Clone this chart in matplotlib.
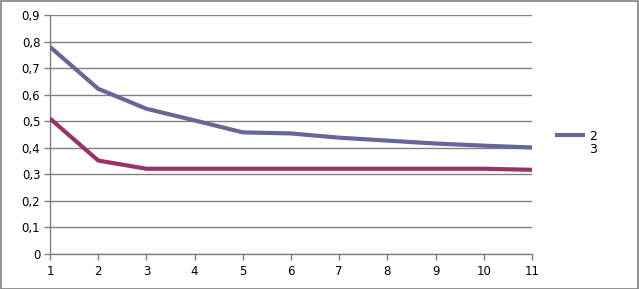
import matplotlib
matplotlib.use('Agg')
import matplotlib.pyplot as plt
from matplotlib.ticker import FuncFormatter, MultipleLocator
from matplotlib.patches import Rectangle

# values
x_vals = [1, 2, 3, 4, 5, 6, 7, 8, 9, 10, 11]
series_2 = [0.78, 0.622, 0.547, 0.503, 0.458, 0.454, 0.438, 0.427, 0.416, 0.408, 0.401]
series_3 = [0.51, 0.352, 0.321, 0.321, 0.321, 0.321, 0.321, 0.321, 0.321, 0.321, 0.317]
labels = ["2", "3"]

fig = plt.figure(figsize=(6.39, 2.89), dpi=100)
ax = fig.add_axes([50 / 639, 35 / 289, 482 / 639, 239 / 289])

ax.plot(x_vals, series_2, color="#666699", linewidth=3, label=labels[0],
        solid_capstyle="butt", zorder=3)
ax.plot(x_vals, series_3, color="#993366", linewidth=3, label=labels[1],
        solid_capstyle="butt", zorder=3)

ax.set_xlim(1, 11)
ax.set_ylim(0, 0.9)
ax.xaxis.set_major_locator(MultipleLocator(1))
ax.yaxis.set_major_locator(MultipleLocator(0.1))
ax.yaxis.set_major_formatter(FuncFormatter(
    lambda v, p: "0" if abs(v) < 1e-9 else f"{v:.1f}".replace(".", ",")))

ax.grid(axis="y", color="#808080", linewidth=1)
ax.set_axisbelow(True)
for s in ["top", "right"]:
    ax.spines[s].set_visible(False)
for s in ["left", "bottom"]:
    ax.spines[s].set_color("#808080")
    ax.spines[s].set_linewidth(1)
ax.tick_params(axis="both", colors="#808080", labelcolor="black",
               labelsize=8.5, length=4, width=1, direction="out")
ax.tick_params(axis="y", pad=3)
ax.tick_params(axis="x", pad=4)

leg = ax.legend(loc="center left", bbox_to_anchor=(1.025, 0.465), frameon=False,
                fontsize=9, handlelength=2.4, labelspacing=0.0,
                handletextpad=0.3)
leg.legend_handles[1].set_visible(False)

# gray frame around whole chart
fig.patches.append(Rectangle((0.5 / 639, 0.5 / 289), 637.5 / 639, 287.5 / 289,
                             transform=fig.transFigure, fill=False,
                             edgecolor="#808080", linewidth=1.2))

fig.savefig("out.png", dpi=100)
